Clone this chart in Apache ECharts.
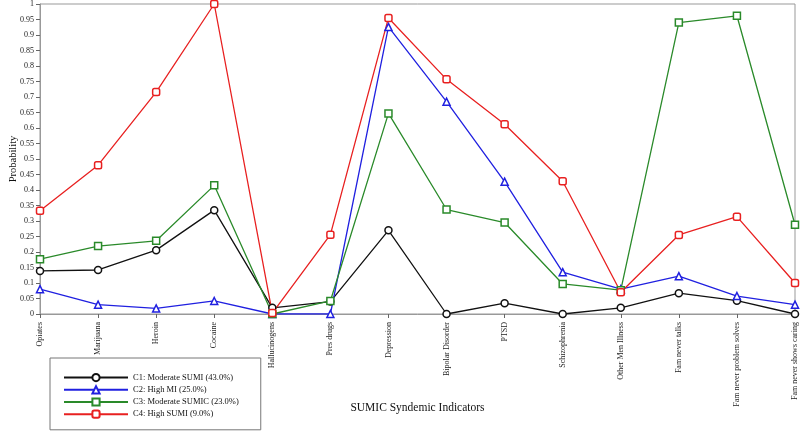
<!DOCTYPE html>
<html>
<head>
<meta charset="utf-8">
<script src="https://cdn.jsdelivr.net/npm/echarts@6/dist/echarts.min.js"></script>
<style>
  html, body { margin: 0; padding: 0; background: #fff; }
  #main { width: 800px; height: 431px; }
</style>
</head>
<body>
<div id="main"></div>
<script>
// indicator names along the x axis
var indicators = ['Opiates', 'Marijuana', 'Heroin', 'Cocaine', 'Hallucinogens', 'Pres drugs',
  'Depression', 'Bipolar Disorder', 'PTSD', 'Schizophrenia', 'Other Men Illness',
  'Fam never talks', 'Fam never problem solves', 'Fam never shows caring'];

// class probabilities
var c1 = [0.139, 0.142, 0.206, 0.335, 0.020, 0.040, 0.270, 0.000, 0.035, 0.000, 0.020, 0.067, 0.043, 0.000];
var c2 = [0.080, 0.030, 0.018, 0.042, 0.000, 0.000, 0.926, 0.685, 0.427, 0.135, 0.080, 0.122, 0.058, 0.030];
var c3 = [0.177, 0.219, 0.236, 0.415, 0.000, 0.042, 0.647, 0.337, 0.295, 0.097, 0.077, 0.940, 0.962, 0.288];
var c4 = [0.333, 0.480, 0.716, 1.000, 0.003, 0.256, 0.955, 0.757, 0.612, 0.428, 0.070, 0.255, 0.314, 0.100];

var names = ['C1: Moderate SUMI (43.0%)', 'C2: High MI (25.0%)', 'C3: Moderate SUMIC (23.0%)', 'C4: High SUMI (9.0%)'];

var font = "'Liberation Serif', 'DejaVu Serif', serif";

var myChart = echarts.init(document.getElementById('main'));

function mkSeries(name, data, color, symbol) {
  return {
    name: name,
    type: 'line',
    data: data,
    symbol: symbol,
    symbolSize: 7,
    lineStyle: { color: color, width: 1.3 },
    itemStyle: { color: '#fff', borderColor: color, borderWidth: 1.5 },
    emphasis: { disabled: true }
  };
}

var option = {
  backgroundColor: '#fff',
  animation: false,
  textStyle: { fontFamily: font },
  grid: {
    left: 40, right: 5, top: 4, bottom: 117,
    outerBoundsMode: 'none',
    show: true, borderColor: '#999', borderWidth: 1
  },
  legend: {
    orient: 'vertical',
    left: 50, top: 358,
    padding: [15, 22, 11, 13],
    itemGap: 3,
    itemWidth: 64,
    itemHeight: 9,
    borderColor: '#777',
    borderWidth: 1,
    textStyle: { fontFamily: font, fontSize: 8.5, color: '#111' },
    data: names
  },
  xAxis: {
    type: 'category',
    data: indicators,
    boundaryGap: false,
    name: 'SUMIC Syndemic Indicators',
    nameLocation: 'middle',
    nameMoveOverlap: false,
    nameGap: 88,
    nameTextStyle: { fontFamily: font, fontSize: 11.5, color: '#111' },
    axisLine: { lineStyle: { color: '#999' } },
    axisTick: { length: 4, lineStyle: { color: '#666' } },
    axisLabel: { rotate: 90, fontSize: 8, color: '#222', fontFamily: font, interval: 0, margin: 8 },
    splitLine: { show: false }
  },
  yAxis: {
    type: 'value',
    min: 0, max: 1, interval: 0.05,
    name: 'Probability',
    nameLocation: 'middle',
    nameMoveOverlap: false,
    nameGap: 21,
    nameRotate: 90,
    nameTextStyle: { fontFamily: font, fontSize: 10.5, color: '#111' },
    axisLine: { show: true, lineStyle: { color: '#999' } },
    axisTick: { show: true, length: 4, lineStyle: { color: '#666' } },
    axisLabel: { fontSize: 8, color: '#222', fontFamily: font, margin: 6 },
    splitLine: { show: false }
  },
  series: [
    mkSeries(names[0], c1, '#111111', 'circle'),
    mkSeries(names[1], c2, '#2020e0', 'triangle'),
    mkSeries(names[2], c3, '#2a8a2a', 'rect'),
    mkSeries(names[3], c4, '#e82020', 'roundRect')
  ]
};

myChart.setOption(option);
</script>
</body>
</html>
